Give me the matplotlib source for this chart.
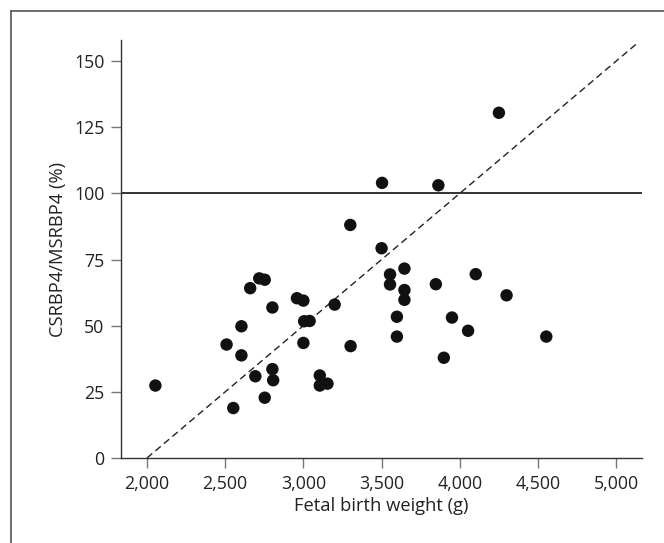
import numpy as np
import matplotlib
matplotlib.use("Agg")
import matplotlib.pyplot as plt
from matplotlib.lines import Line2D

# fetal birth weight (g) and CSRBP4/MSRBP4 (%)
weight = [2054, 2509, 2552, 2604, 2604, 2660, 2693, 2718, 2753, 2753,
          2802, 2802, 2807, 2959, 3000, 3005, 3040, 3000, 3105, 3105,
          3154, 3200, 3300, 3302, 3503, 3500, 3554, 3554, 3646, 3646,
          3646, 3598, 3598, 3863, 3847, 3898, 3950, 4053, 4102, 4250,
          4299, 4553]
ratio = [27.4, 42.9, 18.9, 49.8, 38.8, 64.2, 30.9, 67.9, 67.4, 22.8,
         56.9, 33.6, 29.4, 60.4, 59.5, 51.7, 51.8, 43.5, 31.2, 27.4,
         28.1, 58.0, 88.1, 42.3, 104.0, 79.3, 69.4, 65.6, 71.6, 63.5,
         59.8, 53.4, 45.9, 103.1, 65.7, 37.9, 53.1, 48.1, 69.5, 130.5,
         61.5, 45.9]

# dashed line (start and end points)
fit_x = [2000, 5133]
fit_y = [0, 156.7]
ref_level = 100

xticks = [2000, 2500, 3000, 3500, 4000, 4500, 5000]
yticks = [0, 25, 50, 75, 100, 125, 150]

plt.rcParams['font.family'] = ['Open Sans', 'DejaVu Sans']

fig = plt.figure(figsize=(6.64, 5.43), dpi=100)
ax = fig.add_axes([0.1822, 0.1565, 0.7847, 0.7698])

ax.axhline(ref_level, color='#333333', lw=1.4, zorder=1)
ax.plot(fit_x, fit_y, color='#222222', lw=1.0, dashes=(5, 3), zorder=2)
ax.scatter(weight, ratio, s=80, color='#111111', edgecolors='none', zorder=3)

ax.set_xlim(1834, 5165)
ax.set_ylim(0, 158)
ax.set_xticks(xticks)
ax.set_xticklabels([f"{v:,}" for v in xticks])
ax.set_yticks(yticks)

for s in ['top', 'right']:
    ax.spines[s].set_visible(False)
for s in ['left', 'bottom']:
    ax.spines[s].set_color('#333333')
    ax.spines[s].set_linewidth(1.0)
ax.tick_params(direction='out', length=7, width=1, color='#777777',
               labelsize=12.8, labelcolor='#222222', pad=5)

ax.set_xlabel("Fetal birth weight (g)", fontsize=13.2, color='#222222', labelpad=3)
ax.set_ylabel("CSRBP4/MSRBP4 (%)", fontsize=13.2, color='#222222', labelpad=5)

# outer frame (top and left edges visible)
fig.add_artist(Line2D([11/664, 1], [1-11/543, 1-11/543], color='#555555', lw=1.2,
                      transform=fig.transFigure))
fig.add_artist(Line2D([11/664, 11/664], [0, 1-11/543], color='#555555', lw=1.2,
                      transform=fig.transFigure))

fig.savefig("out.png", dpi=100)
